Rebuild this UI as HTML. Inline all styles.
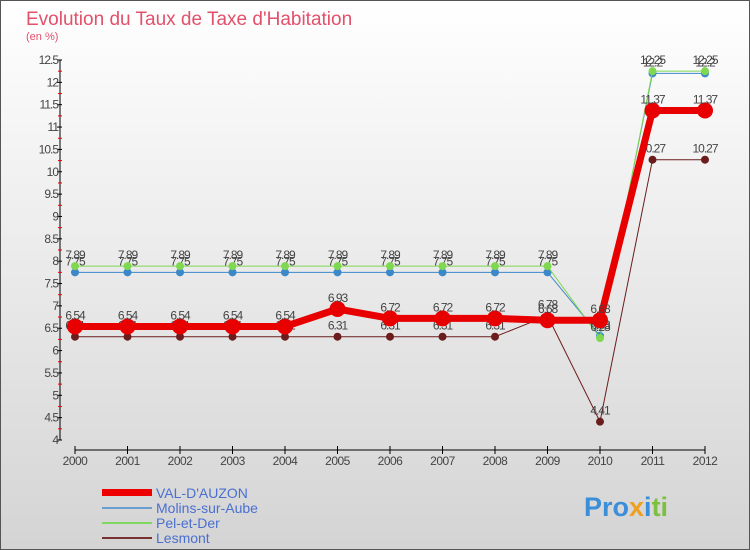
<!DOCTYPE html>
<html><head><meta charset="utf-8"><style>
body{margin:0;width:750px;height:550px;overflow:hidden;font-family:"Liberation Sans",sans-serif}
#wrap{position:absolute;left:0;top:0;width:748px;height:548px;border:1px solid #555;background:linear-gradient(#fff,#d4d4d4)}
</style></head><body>
<div id="wrap">
<svg id="c" width="750" height="550" style="position:absolute;left:-1px;top:-1px">
<text x="26" y="25" font-size="19" fill="#e2506a">Evolution du Taux de Taxe d'Habitation</text>
<text x="26" y="40" font-size="11" fill="#e2506a">(en %)</text>
<g id="axes"></g><g id="series"></g>
<g font-size="14" fill="#4a6fd0">
<rect x="102" y="489" width="50" height="7" fill="#e00"/>
<text x="156" y="498">VAL-D'AUZON</text>
<rect x="102" y="507" width="50" height="2" fill="#6aa0d0"/>
<text x="156" y="513">Molins-sur-Aube</text>
<rect x="102" y="522" width="50" height="2" fill="#7fd860"/>
<text x="156" y="528">Pel-et-Der</text>
<rect x="102" y="537" width="50" height="2" fill="#7a3030"/>
<text x="156" y="543">Lesmont</text>
</g>
<text x="584" y="516" font-size="27" font-weight="bold"><tspan fill="#3a8fd8">Pro</tspan><tspan fill="#f0a020">x</tspan><tspan fill="#3a8fd8">i</tspan><tspan fill="#7cc040">ti</tspan></text>
</svg></div>
<script>
const years=[2000,2001,2002,2003,2004,2005,2006,2007,2008,2009,2010,2011,2012];
const yTicks=[4,4.5,5,5.5,6,6.5,7,7.5,8,8.5,9,9.5,10,10.5,11,11.5,12,12.5];
const valData=[6.54,6.54,6.54,6.54,6.54,6.93,6.72,6.72,6.72,6.68,6.68,11.37,11.37];
const molinsData=[7.75,7.75,7.75,7.75,7.75,7.75,7.75,7.75,7.75,7.75,6.33,12.2,12.2];
const pelData=[7.89,7.89,7.89,7.89,7.89,7.89,7.89,7.89,7.89,7.89,6.28,12.25,12.25];
const lesmontData=[6.31,6.31,6.31,6.31,6.31,6.31,6.31,6.31,6.31,6.78,4.41,10.27,10.27];
const NS="http://www.w3.org/2000/svg";
const xs=i=>75+i*52.5, ys=v=>440-(v-4)*(380/8.5);
function mk(t,a,p){const e=document.createElementNS(NS,t);for(const k in a)e.setAttribute(k,a[k]);p.appendChild(e);return e;}
const ax=document.getElementById('axes');
let l=mk('line',{x1:60,y1:60,x2:60,y2:440,stroke:'#000'},ax);


l=mk('line',{x1:75,y1:450,x2:705,y2:450,stroke:'#000'},ax);


yTicks.forEach((v,i)=>{
 mk('line',{x1:57,y1:ys(v),x2:62,y2:ys(v),stroke:'#000'},ax);
 if(i<yTicks.length-1)mk('line',{x1:58,y1:ys(v+0.25),x2:62,y2:ys(v+0.25),stroke:'#e00'},ax);
 const t=mk('text',{x:58,y:ys(v)+4,'text-anchor':'end','font-size':12,fill:'#444','letter-spacing':'-1'},ax);t.textContent=v;
 
 
});
years.forEach((y,i)=>{
 mk('line',{x1:xs(i),y1:446,x2:xs(i),y2:454,stroke:'#000'},ax);
 const t=mk('text',{x:xs(i),y:465,'text-anchor':'middle','font-size':12,fill:'#444','letter-spacing':'-0.5'},ax);t.textContent=y;
 
 
});
const sg=document.getElementById('series');
function series(d,color,w,r,name){
 const g=mk('g',{},sg);
 
 
 mk('polyline',{points:d.map((v,i)=>xs(i)+','+ys(v)).join(' '),fill:'none',stroke:color,'stroke-width':w},g);
 d.forEach((v,i)=>{
  const c=mk('circle',{cx:xs(i),cy:ys(v),r:r,fill:color},g);
  
  
  const t=mk('text',{x:xs(i),y:ys(v)-7,'text-anchor':'middle','font-size':12,fill:'#444','letter-spacing':'-1'},g);t.textContent=v;
  
  
 });
}
series(lesmontData,'#6b1c1c',1,4,'series-lesmont');
series(molinsData,'#3c88c8',1,4,'series-molins');
series(pelData,'#7fd850',1,4,'series-pel');
series(valData,'#e80000',7,8,'series-val');
</script>
</body></html>
